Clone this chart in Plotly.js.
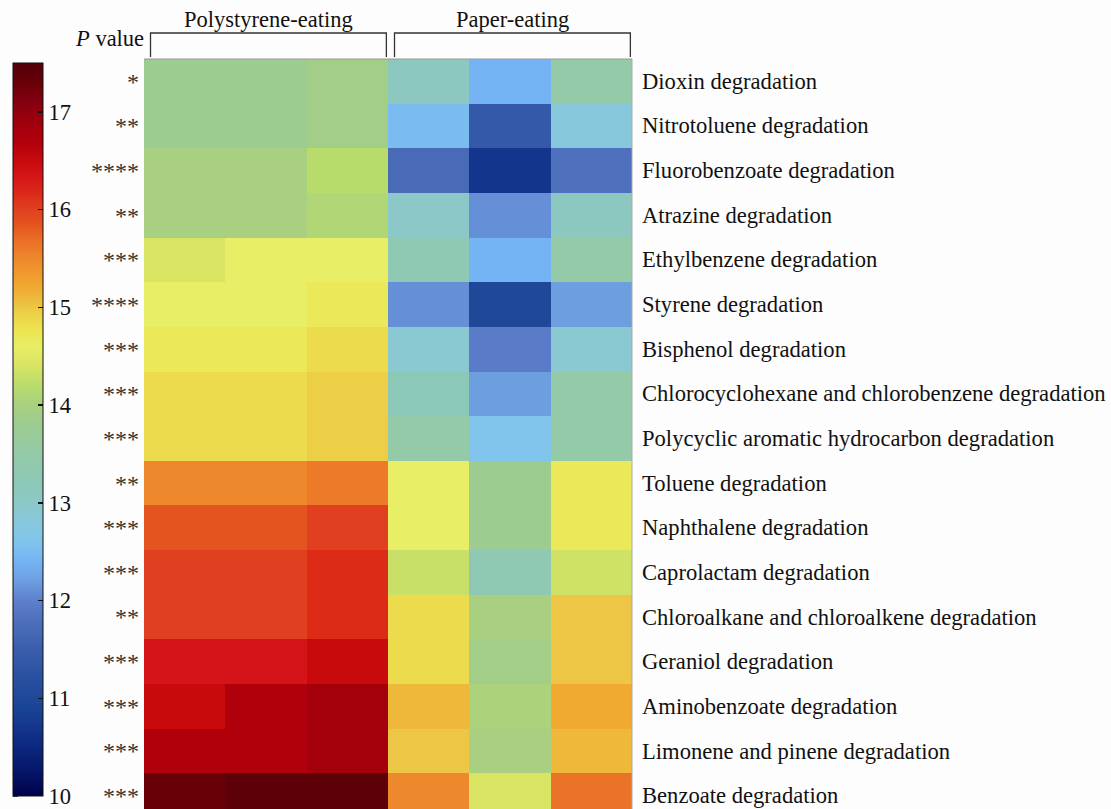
<!DOCTYPE html>
<html>
<head>
<meta charset="utf-8">
<script src="https://cdn.plot.ly/plotly-3.0.1.min.js"></script>
<style>
html, body { margin: 0; padding: 0; overflow: hidden; background: #fdfdfd; }
#chart { width: 1111px; height: 820px; }
</style>
</head>
<body>
<div id="chart"></div>
<script>
// ---- data ----
const pathways = [
  'Dioxin degradation',
  'Nitrotoluene degradation',
  'Fluorobenzoate degradation',
  'Atrazine degradation',
  'Ethylbenzene degradation',
  'Styrene degradation',
  'Bisphenol degradation',
  'Chlorocyclohexane and chlorobenzene degradation',
  'Polycyclic aromatic hydrocarbon degradation',
  'Toluene degradation',
  'Naphthalene degradation',
  'Caprolactam degradation',
  'Chloroalkane and chloroalkene degradation',
  'Geraniol degradation',
  'Aminobenzoate degradation',
  'Limonene and pinene degradation',
  'Benzoate degradation'
];
const pStars = ['*','**','****','**','***','****','***','***','***','**','***','***','**','***','***','***','***'];
const groups = ['Polystyrene-eating', 'Paper-eating'];
const groupColumns = [[0, 1, 2], [3, 4, 5]];

const psRep1 = [13.8,13.8,14.0,14.0,14.4,14.6,14.7,14.85,14.85,15.5,15.85,16.0,16.0,16.35,16.5,16.7,17.3];
const psRep2 = [13.8,13.8,14.0,14.0,14.6,14.6,14.7,14.85,14.85,15.5,15.85,16.0,16.0,16.35,16.7,16.7,17.4];
const psRep3 = [13.9,13.9,14.2,14.1,14.6,14.7,14.85,14.95,14.95,15.6,16.0,16.15,16.15,16.5,16.85,16.85,17.4];
const paRep1 = [13.1,12.5,11.7,13.0,13.3,12.1,12.9,13.2,13.5,14.6,14.6,14.3,14.85,14.85,15.1,15.0,15.5];
const paRep2 = [12.4,11.4,10.7,12.1,12.4,11.0,11.95,12.2,12.6,13.8,13.8,13.3,14.0,13.9,14.05,14.0,14.4];
const paRep3 = [13.5,12.8,11.8,13.1,13.5,12.2,12.9,13.5,13.5,14.7,14.7,14.35,15.0,15.0,15.2,15.1,15.65];

const zMin = 10, zMax = 17.5;
const cbTicks = [10, 11, 12, 13, 14, 15, 16, 17];

// colour map anchors (value -> colour)
const cmapValues = [10.0,10.3,10.6,10.9,11.2,11.5,11.8,12.0,12.2,12.4,12.6,12.8,13.0,13.2,13.5,13.8,14.0,14.2,14.4,14.6,14.75,14.9,15.0,15.2,15.5,15.7,15.85,16.0,16.15,16.35,16.5,16.7,16.85,17.1,17.3,17.5];
const cmapColors = ['#00004a','#061a6e','#102e86','#1a4494','#2850a0','#3a5eac','#4f70bc','#5e80cc','#6c9ee0','#74b4f4','#80c4ec','#88c8dc','#8cc8c8','#8cc8b8','#94caa8','#9ccc90','#a8d080','#b8dc6c','#d8e462','#e8ee66','#ece652','#ecd64a','#ecc644','#f0aa32','#ee882c','#ea6c26','#e4541e','#e04020','#dc2c18','#d41418','#c80a0c','#b0000c','#a4000c','#840010','#680008','#520008'];

// ---- build ----
const columns = [psRep1, psRep2, psRep3, paRep1, paRep2, paRep3];
const rowIdx = pathways.map((_, i) => i);
const colIdx = columns.map((_, j) => j);
const z = rowIdx.map(i => columns.map(col => col[i]));
const colorscale = cmapValues.map((v, k) => [(v - zMin) / (zMax - zMin), cmapColors[k]]);

const W = 1111, H = 820;
const M = {l: 144, r: 479, t: 59, b: 2};
const plotW = W - M.l - M.r, plotH = H - M.t - M.b;
const serif = "'Liberation Serif', 'Times New Roman', serif";

// colourbar geometry (pixels)
const cbLeftPx = 13, cbTopPx = 63, cbLenPx = 733, cbThick = 30;
const cbX = (cbLeftPx - M.l) / plotW;
const cbYTop = 1 - (cbTopPx - M.t) / plotH;

const trace = {
  type: 'heatmap',
  x: colIdx, y: rowIdx, z: z,
  zmin: zMin, zmax: zMax,
  colorscale: colorscale,
  hoverinfo: 'skip',
  colorbar: {
    x: cbX, xanchor: 'left', xpad: 0,
    y: cbYTop, yanchor: 'top', ypad: 0,
    len: cbLenPx, lenmode: 'pixels',
    thickness: cbThick, thicknessmode: 'pixels',
    outlinewidth: 1, outlinecolor: '#111',
    tickvals: cbTicks, ticktext: cbTicks.map(String),
    ticks: 'inside', ticklen: 5, tickwidth: 1.5, tickcolor: '#111',
    tickfont: {family: serif, size: 22.5, color: '#111'}
  }
};

const shapes = [];
// left-side tick dashes on the colour bar
cbTicks.forEach(v => {
  const yPx = cbTopPx + (zMax - v) / (zMax - zMin) * cbLenPx;
  const yp = 1 - (yPx - M.t) / plotH;
  shapes.push({type: 'line', xref: 'paper', yref: 'paper',
    x0: cbX, x1: cbX + 5 / plotW, y0: yp, y1: yp,
    line: {color: '#111', width: 1.5}});
});
// heat map frame: top and right
shapes.push({type: 'line', xref: 'paper', yref: 'paper', x0: 0, x1: 1, y0: 1, y1: 1, line: {color: '#999', width: 1}});
shapes.push({type: 'line', xref: 'paper', yref: 'paper', x0: 1, x1: 1, y0: 0, y1: 1, line: {color: '#aaa', width: 1}});

// group brackets
const bracketTop = 1 + 26 / plotH;
const annotations = [];
groupColumns.forEach((cols, g) => {
  const a = Math.min(...cols) - 0.5 + 0.08;
  const b = Math.max(...cols) + 0.5 - 0.02;
  shapes.push({type: 'path', xref: 'x', yref: 'paper',
    path: `M ${a} ${1 + 2 / plotH} L ${a} ${bracketTop} L ${b} ${bracketTop} L ${b} ${1 + 2 / plotH}`,
    line: {color: '#333', width: 1.3}});
  annotations.push({xref: 'x', yref: 'paper', x: (a + b) / 2, y: 1, yshift: 40,
    xanchor: 'center', yanchor: 'middle', showarrow: false,
    text: groups[g], font: {family: serif, size: 22.5, color: '#111'}});
});
annotations.push({xref: 'paper', yref: 'paper', x: 0, y: 1, xshift: 2, yshift: 21,
  xanchor: 'right', yanchor: 'middle', showarrow: false,
  text: '<i>P</i> value', font: {family: serif, size: 22.5, color: '#111'}});

// pathway labels on the right
pathways.forEach((name, i) => {
  annotations.push({xref: 'paper', yref: 'y', x: 1, y: i, xshift: 8,
    xanchor: 'left', yanchor: 'middle', showarrow: false,
    text: name, font: {family: serif, size: 22.6, color: '#111'}});
});

const layout = {
  width: W, height: H,
  margin: M,
  paper_bgcolor: '#fdfdfd', plot_bgcolor: '#fdfdfd',
  xaxis: {range: [-0.5, 5.5], showticklabels: false, ticks: '', showgrid: false, zeroline: false, fixedrange: true},
  yaxis: {range: [16.5, -0.5], tickvals: rowIdx, ticktext: pStars, ticks: '', ticklabelstandoff: 4,
    showgrid: false, zeroline: false, tickfont: {family: serif, size: 24, color: '#333'}, fixedrange: true},
  shapes: shapes,
  annotations: annotations,
  showlegend: false
};

Plotly.newPlot('chart', [trace], layout, {displayModeBar: false, staticPlot: true});
</script>
</body>
</html>
